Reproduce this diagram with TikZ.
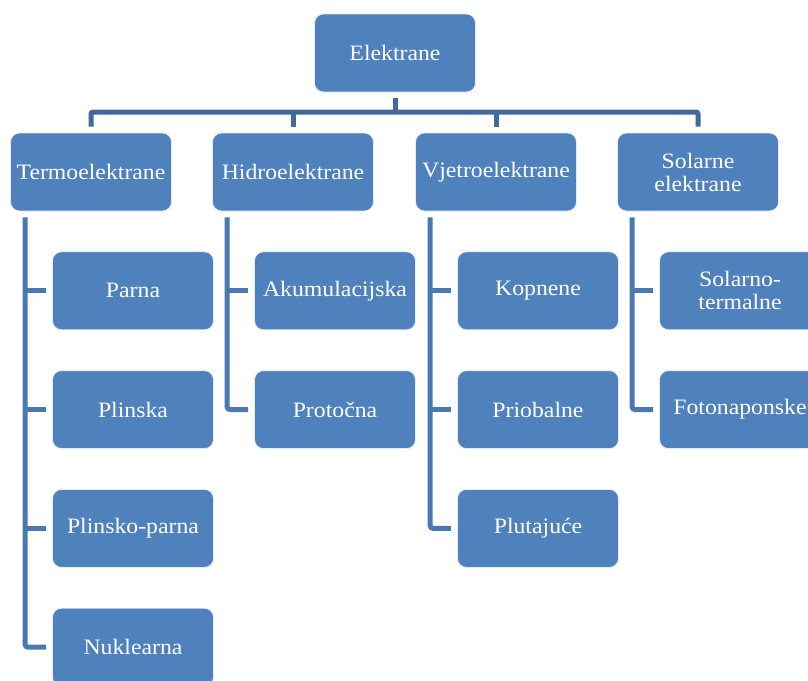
\documentclass[tikz,border=0pt]{standalone}
\usepackage{fontspec}
\setmainfont{Liberation Serif}[FakeStretch=1.08]
\usepackage{xcolor}
\usepackage{tikz}
\usetikzlibrary{positioning,calc}
\definecolor{boxblue}{HTML}{4F81BD}
\definecolor{busline}{HTML}{41699A}
\definecolor{sideline}{HTML}{4A78B0}

\begin{document}
\begin{tikzpicture}[
    x=1pt, y=-1pt,
    node distance=40pt and 42pt,
    box/.style={draw=white!85!boxblue, line width=0.8pt, fill=boxblue, rounded corners=9pt,
      minimum width=161pt, minimum height=78pt, align=center, text=white,
      font=\fontsize{22}{23}\selectfont},
    bus/.style={draw=busline, line width=5pt, rounded corners=2pt},
    side/.style={draw=sideline, line width=5pt, rounded corners=3pt}
]
  \useasboundingbox[fill=white] (0,0) rectangle (808,680);

  % root
  \node[box] (root) at (395,53) {Elektrane};

  % first level
  \node[box] (termo) at (91,172) {Termoelektrane};
  \node[box] (hidro) at (293,172) {Hidroelektrane};
  \node[box] (vjetro) at (496,172) {Vjetroelektrane};
  \node[box] (solar) at (698,172) {Solarne\\elektrane};

  % second level
  \node[box, below=40pt of termo.south west, anchor=north west, xshift=42pt] (parna) {Parna};
  \node[box, below=of parna] (plinska) {Plinska};
  \node[box, below=of plinska] (plinpar) {Plinsko-parna};
  \node[box, below=of plinpar] (nukl) {Nuklearna};

  \node[box, below=40pt of hidro.south west, anchor=north west, xshift=42pt] (akum) {Akumulacijska};
  \node[box, below=of akum] (protoc) {Protočna};

  \node[box, below=40pt of vjetro.south west, anchor=north west, xshift=42pt] (kopn) {Kopnene};
  \node[box, below=of kopn] (priob) {Priobalne};
  \node[box, below=of priob] (plut) {Plutajuće};

  \node[box, below=40pt of solar.south west, anchor=north west, xshift=42pt] (soltherm) {Solarno-\\termalne};
  \node[box, below=of soltherm] (foto) {Fotonaponske};

  % bus
  \coordinate (busy) at (395,112);
  \draw[bus, shorten <=6pt] (root.south) -- (root.south |- busy);
  \draw[bus, shorten <=6pt, shorten >=6pt] (termo.north) |- (busy) -| (solar.north);
  \draw[bus, shorten >=6pt] (hidro.north |- busy) -- (hidro.north);
  \draw[bus, shorten >=6pt] (vjetro.north |- busy) -- (vjetro.north);

  % side trunks
  \coordinate (ttermo) at ([xshift=15pt]termo.south west);
  \coordinate (thidro) at ([xshift=15pt]hidro.south west);
  \coordinate (tvjetro) at ([xshift=15pt]vjetro.south west);
  \coordinate (tsolar) at ([xshift=15pt]solar.south west);

  \draw[side, shorten <=6pt, shorten >=6pt] (ttermo) |- (nukl.west);
  \draw[side, shorten >=6pt] (parna.west -| ttermo) -- (parna.west);
  \draw[side, shorten >=6pt] (plinska.west -| ttermo) -- (plinska.west);
  \draw[side, shorten >=6pt] (plinpar.west -| ttermo) -- (plinpar.west);

  \draw[side, shorten <=6pt, shorten >=6pt] (thidro) |- (protoc.west);
  \draw[side, shorten >=6pt] (akum.west -| thidro) -- (akum.west);

  \draw[side, shorten <=6pt, shorten >=6pt] (tvjetro) |- (plut.west);
  \draw[side, shorten >=6pt] (kopn.west -| tvjetro) -- (kopn.west);
  \draw[side, shorten >=6pt] (priob.west -| tvjetro) -- (priob.west);

  \draw[side, shorten <=6pt, shorten >=6pt] (tsolar) |- (foto.west);
  \draw[side, shorten >=6pt] (soltherm.west -| tsolar) -- (soltherm.west);
\end{tikzpicture}
\end{document}
